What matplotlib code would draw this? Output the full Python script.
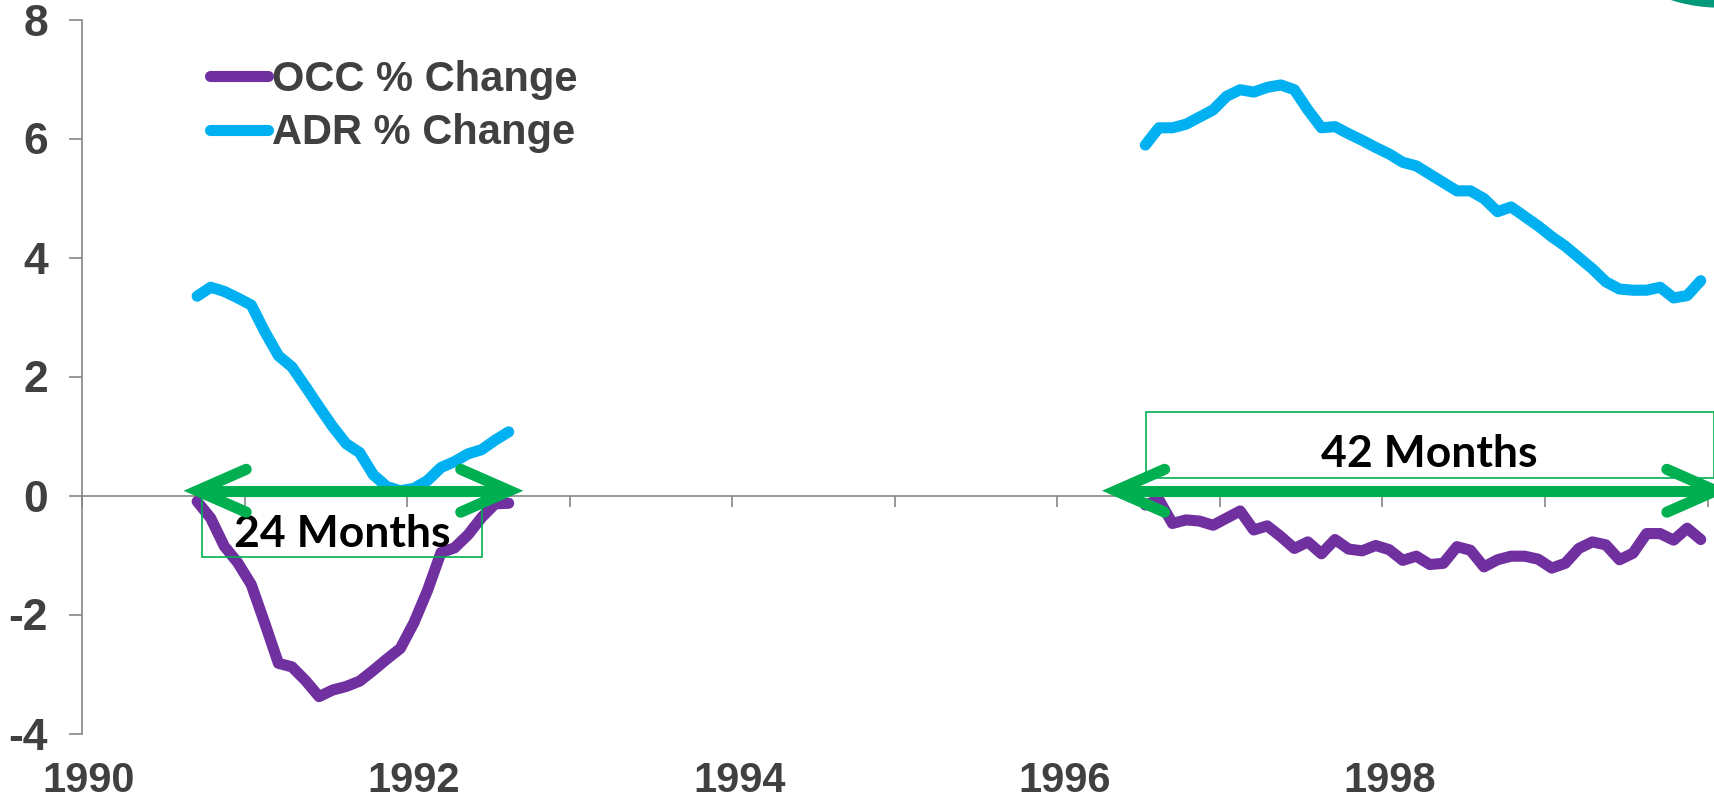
import numpy as np
import matplotlib
matplotlib.use("Agg")
from matplotlib import pyplot as plt
from matplotlib.patches import Rectangle, Ellipse
from matplotlib.transforms import ScaledTranslation

# monthly % change, two windows (start given as decimal year, mid-month)
occ_start = [1990 + 8.5 / 12, 1996 + 6.5 / 12]
occ_pct_90 = [-0.10, -0.38, -0.85, -1.13, -1.50, -2.15, -2.82, -2.88, -3.11, -3.38,
              -3.27, -3.21, -3.12, -2.94, -2.75, -2.57, -2.14, -1.60, -0.96, -0.88,
              -0.66, -0.37, -0.14, -0.13]
adr_pct_90 = [3.35, 3.50, 3.43, 3.32, 3.20, 2.75, 2.35, 2.16, 1.83, 1.49,
              1.16, 0.87, 0.72, 0.35, 0.15, 0.08, 0.12, 0.25, 0.47, 0.57,
              0.70, 0.77, 0.93, 1.07]
occ_pct_96 = [-0.16, -0.07, -0.47, -0.41, -0.43, -0.50, -0.38, -0.26, -0.58, -0.51,
              -0.69, -0.89, -0.78, -0.98, -0.74, -0.90, -0.93, -0.84, -0.91, -1.09,
              -1.02, -1.16, -1.14, -0.86, -0.92, -1.20, -1.08, -1.02, -1.02, -1.07,
              -1.22, -1.14, -0.89, -0.78, -0.83, -1.08, -0.97, -0.64, -0.64, -0.75,
              -0.55, -0.74]
adr_pct_96 = [5.89, 6.18, 6.18, 6.24, 6.36, 6.48, 6.71, 6.82, 6.78, 6.86,
              6.90, 6.82, 6.48, 6.18, 6.20, 6.08, 5.97, 5.85, 5.74, 5.60,
              5.54, 5.40, 5.26, 5.12, 5.12, 4.99, 4.77, 4.85, 4.69, 4.53,
              4.35, 4.19, 4.00, 3.81, 3.59, 3.47, 3.45, 3.45, 3.50, 3.32,
              3.36, 3.61]

year_ticks = list(range(1990, 2001))
year_labels = [1990, 1992, 1994, 1996, 1998]
y_ticks = [-4, -2, 0, 2, 4, 6, 8]

# "N Months" call-outs
notes = ["24 Months", "42 Months"]
note_x = [1991.60, 1998.29]
note_y = [-0.86, 0.48]
box_x = [(1990.74, 1992.46), (1996.545, 2000.04)]
box_y = [(-1.03, 0.0), (0.30, 1.40)]
arrow_x = [(1990.71, 1992.63), (1996.36, 2000.05)]
arrow_y = 0.08

PURPLE = "#7030A0"
CYAN = "#00B0F0"
GREEN = "#00B050"
TXT = "#404040"
AXC = "#868686"

plt.rcParams["font.family"] = "Liberation Sans"
plt.rcParams["font.weight"] = "bold"
plt.rcParams["axes.unicode_minus"] = False

W, H = 1715, 798
fig = plt.figure(figsize=(W / 100, H / 100), dpi=100)
ax = fig.add_axes([82 / W, (H - 733.5) / H, (1707.5 - 82) / W, (733.5 - 19.5) / H])


def months(start, vals):
    return start + np.arange(len(vals)) / 12


line_kw = dict(lw=8, solid_capstyle="round", solid_joinstyle="round", zorder=3)
occ_line, = ax.plot(months(occ_start[0], occ_pct_90), occ_pct_90, color=PURPLE,
                    label="OCC % Change", **line_kw)
adr_line, = ax.plot(months(occ_start[0], adr_pct_90), adr_pct_90, color=CYAN,
                    label="ADR % Change", **line_kw)
ax.plot(months(occ_start[1], occ_pct_96), occ_pct_96, color=PURPLE, **line_kw)
ax.plot(months(occ_start[1], adr_pct_96), adr_pct_96, color=CYAN, **line_kw)

ax.set_xlim(1990, 2000)
ax.set_ylim(-4, 8)
for s in ["top", "right"]:
    ax.spines[s].set_visible(False)
ax.spines["bottom"].set_position(("data", 0))
for s in ["left", "bottom"]:
    ax.spines[s].set_color(AXC)
    ax.spines[s].set_linewidth(1.2)

ax.set_xticks(year_ticks)
ax.tick_params(axis="x", labelbottom=False, direction="out", length=8, width=1.2, color=AXC)
ax.set_yticks(y_ticks)
ax.set_yticklabels([str(v) for v in y_ticks])
ax.tick_params(axis="y", direction="out", length=9.5, width=1.2, color=AXC,
               pad=15, labelsize=32, labelcolor=TXT)

sec = ax.secondary_xaxis(0)
sec.spines["bottom"].set_visible(False)
sec.set_xticks(year_labels)
sec.set_xticklabels([str(v) for v in year_labels])
sec.tick_params(length=0, pad=20, labelsize=30, labelcolor=TXT)
for lb in sec.get_xticklabels():
    lb.set_transform(lb.get_transform() + ScaledTranslation(0.07, 0, fig.dpi_scale_trans))

ax.legend(handles=[occ_line, adr_line], loc="upper left",
          bbox_to_anchor=(210 / W, 1 - 60 / H), bbox_transform=fig.transFigure,
          frameon=False, fontsize=30, labelcolor=TXT, handlelength=1.4,
          handletextpad=0.1, borderpad=0, borderaxespad=0, labelspacing=0.32)

# boxes, labels and double arrows
for (x0, x1), (y0, y1) in zip(box_x, box_y):
    ax.add_patch(Rectangle((x0, y0), x1 - x0, y1 - y0, fill=False, ec=GREEN,
                           lw=1.2, zorder=4, clip_on=False))
for txt, x, y in zip(notes, note_x, note_y):
    ax.text(x, y, txt, ha="center", va="baseline", fontsize=32, fontweight="bold",
            family="Lato", color="black", zorder=5)

hx, hy = 0.30, 0.36
arrow_kw = dict(color=GREEN, lw=8, solid_capstyle="round", solid_joinstyle="miter",
                zorder=6, clip_on=False)
for x0, x1 in arrow_x:
    ax.plot([x0 + 0.05, x1 - 0.05], [arrow_y, arrow_y], **arrow_kw)
    ax.plot([x0 + hx, x0, x0 + hx], [arrow_y + hy, arrow_y, arrow_y - hy], **arrow_kw)
    ax.plot([x1 - hx, x1, x1 - hx], [arrow_y + hy, arrow_y, arrow_y - hy], **arrow_kw)

# corner logo piece
fig.add_artist(Ellipse((1720 / W, (H + 154) / H), 2 * 161 / W, 2 * 161 / H,
                       transform=fig.transFigure, color="#00997A"))

fig.savefig("out.png", dpi=100)
